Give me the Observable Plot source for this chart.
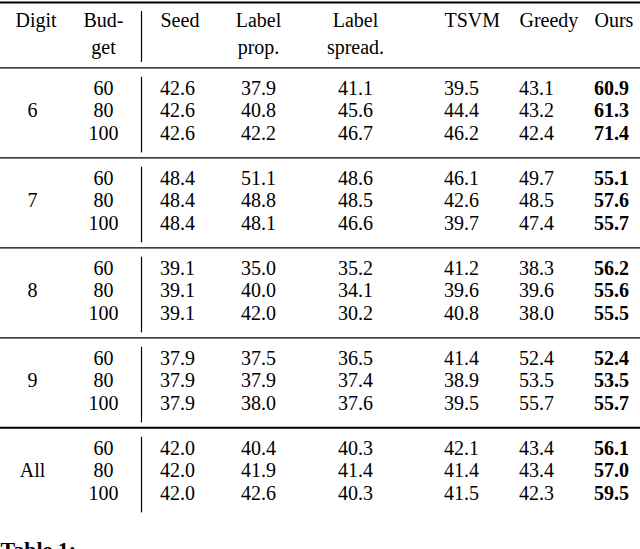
<!DOCTYPE html>
<html>
<head>
<meta charset="utf-8">
<script src="https://cdn.jsdelivr.net/npm/d3@7"></script>
<script src="https://cdn.jsdelivr.net/npm/@observablehq/plot@0.6"></script>
<style>
  html, body { margin: 0; padding: 0; background: #fff; }
  #chart svg { display: block; background: #fff; }
</style>
</head>
<body>
<div id="chart"></div>
<script>
// ---- data ----
const digits = ["6", "7", "8", "9", "All"];
const budgets = [60, 80, 100];
const headerTop = ["Digit", "Bud-", "Seed", "Label", "Label", "TSVM", "Greedy", "Ours"];
const headerBottom = ["", "get", "", "prop.", "spread.", "", "", ""];
const seed        = [42.6, 42.6, 42.6, 48.4, 48.4, 48.4, 39.1, 39.1, 39.1, 37.9, 37.9, 37.9, 42.0, 42.0, 42.0];
const labelProp   = [37.9, 40.8, 42.2, 51.1, 48.8, 48.1, 35.0, 40.0, 42.0, 37.5, 37.9, 38.0, 40.4, 41.9, 42.6];
const labelSpread = [41.1, 45.6, 46.7, 48.6, 48.5, 46.6, 35.2, 34.1, 30.2, 36.5, 37.4, 37.6, 40.3, 41.4, 40.3];
const tsvm        = [39.5, 44.4, 46.2, 46.1, 42.6, 39.7, 41.2, 39.6, 40.8, 41.4, 38.9, 39.5, 42.1, 41.4, 41.5];
const greedy      = [43.1, 43.2, 42.4, 49.7, 48.5, 47.4, 38.3, 39.6, 38.0, 52.4, 53.5, 55.7, 43.4, 43.4, 42.3];
const ours        = [60.9, 61.3, 71.4, 55.1, 57.6, 55.7, 56.2, 55.6, 55.5, 52.4, 53.5, 55.7, 56.1, 57.0, 59.5];
const caption = "Table 1:";

// ---- derived tables ----
// column index: 0 Digit, 1 Budget, 2 separator, 3..8 methods
const headerCols = [0, 1, 3, 4, 5, 6, 7, 8];
const startAnchored = new Set([0, 3, 6, 7, 8]);
const headers = [];
headerTop.forEach((t, i) => headers.push({col: headerCols[i], row: -3, text: t}));
headerBottom.forEach((t, i) => { if (t) headers.push({col: headerCols[i], row: -1.8, text: t}); });

const cells = [];
const series = [seed, labelProp, labelSpread, tsvm, greedy];
digits.forEach((d, g) => {
  cells.push({col: 0, row: 4 * g + 1, text: d});
  budgets.forEach((b, r) => {
    const i = 3 * g + r;
    const row = 4 * g + r;
    cells.push({col: 1, row, text: String(b)});
    series.forEach((s, k) => cells.push({col: 3 + k, row, text: s[i].toFixed(1)}));
  });
});
const boldCells = ours.map((v, i) => ({col: 8, row: 4 * Math.floor(i / 3) + (i % 3), text: v.toFixed(1)}));

const groupIdx = digits.map((d, g) => g);
const thinRules = groupIdx.slice(0, 4).map(g => 4 * g - 0.92);
const thickRules = [-3.82, 4 * 4 - 0.92];
const vSegs = [{y1: -3.42, y2: -1.16}].concat(groupIdx.map(g => ({y1: 4 * g - 0.5, y2: 4 * g + 2.86})));

const font = "'Liberation Serif', 'Times New Roman', serif";
const plot = Plot.plot({
  width: 640,
  height: 549,
  margin: 0,
  style: {fontFamily: font, background: "#fff", color: "#000"},
  x: {type: "linear", domain: [0, 1, 2, 3, 4, 5, 6, 7, 8], range: [32, 103, 141, 177, 258, 355, 461, 536, 611], axis: null},
  y: {type: "linear", domain: [-3.911, 20.489], range: [0, 549], axis: null},
  marks: [
    Plot.ruleY(thinRules, {y: d => d, stroke: "#000", strokeWidth: 1.2}),
    Plot.ruleY(thickRules, {y: d => d, stroke: "#000", strokeWidth: 2}),
    Plot.ruleX(vSegs, {x: () => 2, y1: "y1", y2: "y2", stroke: "#000", strokeWidth: 1.2}),
    Plot.text(headers.filter(d => startAnchored.has(d.col)), {x: "col", y: "row", text: "text", textAnchor: "start", dx: -17, fontSize: 20, fill: "#000"}),
    Plot.text(headers.filter(d => !startAnchored.has(d.col)), {x: "col", y: "row", text: "text", fontSize: 20, fill: "#000"}),
    Plot.text(cells, {x: "col", y: "row", text: "text", fontSize: 20, fill: "#000"}),
    Plot.text(boldCells, {x: "col", y: "row", text: "text", fontSize: 20, fontWeight: "bold", fill: "#000"}),
    Plot.text([caption], {frameAnchor: "left", y: () => 20.13, text: d => d, textAnchor: "start", lineAnchor: "top", fontSize: 22, fontWeight: "bold", fill: "#000"})
  ]
});
document.getElementById("chart").appendChild(plot);
</script>
</body>
</html>
